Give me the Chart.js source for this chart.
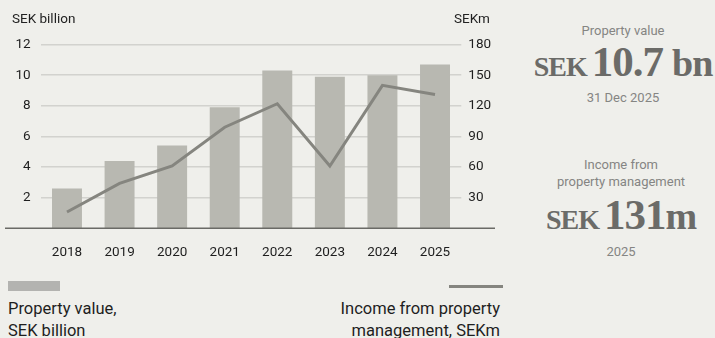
<!DOCTYPE html>
<html>
<head>
<meta charset="utf-8">
<script src="https://cdn.jsdelivr.net/npm/chart.js@4"></script>
<style>
  html, body { margin: 0; padding: 0; background: #efefeb; }
  body { width: 715px; height: 338px; position: relative; overflow: hidden; font-family: Roboto, sans-serif; }
  #wrap { position: absolute; left: 0; top: 0; width: 500px; height: 270px; }
  .axis-title { position: absolute; top: 10px; font-size: 13.5px; color: #222; }
  .legend-bar { position: absolute; left: 8px; top: 281px; width: 52px; height: 10px; background: #b3b3b0; }
  .legend-line { position: absolute; left: 449px; top: 285px; width: 54px; height: 3px; background: #85857f; }
  .legend-text { position: absolute; font-size: 16.5px; line-height: 22px; color: #1e1e1e; }
  .side { position: absolute; left: 527px; width: 188px; text-align: center; color: #858583; }
  .side .small { font-size: 13px; line-height: 17px; }
  .side .big { font-family: "Liberation Serif", serif; font-weight: bold; color: #6b6b68; letter-spacing: -1px; white-space: nowrap; }
  .side .big .u { font-size: 28px; margin-right: 5px; }
  .side .big .n { font-size: 43px; }
</style>
</head>
<body>
<div id="wrap"><canvas id="chart"></canvas></div>
<div class="axis-title" style="left:12px">SEK billion</div>
<div class="axis-title" style="left:454px">SEKm</div>

<div class="legend-bar"></div>
<div class="legend-text" style="left:8px; top:298px">Property value,<br>SEK billion</div>
<div class="legend-line"></div>
<div class="legend-text" style="right:215px; top:298px; text-align:right">Income from property<br>management, SEKm</div>

<div class="side" style="top:22px; left:529px">
  <div class="small">Property value</div>
  <div class="big" style="line-height:46px"><span class="u">SEK</span><span class="n">10.7</span><span class="n" style="font-size:38px; margin-left:9px">bn</span></div>
  <div class="small" style="margin-top:-5px">31 Dec 2025</div>
</div>
<div class="side" style="top:156px">
  <div class="small">Income from<br>property management</div>
  <div class="big" style="line-height:46px; margin-top:2px"><span class="u">SEK</span><span class="n">131</span><span class="n" style="font-size:38px">m</span></div>
  <div class="small" style="margin-top:-4px">2025</div>
</div>

<script>
const years = ["2018", "2019", "2020", "2021", "2022", "2023", "2024", "2025"];
const propertyValue = [2.6, 4.4, 5.4, 7.9, 10.3, 9.9, 10.0, 10.7];      // SEK billion
const mgmtIncome = [16, 44, 61, 99, 122, 61, 140, 131];                  // SEKm
const leftTicks = [2, 4, 6, 8, 10, 12];
const rightTicks = [30, 60, 90, 120, 150, 180];

const tickFont = { family: "Roboto", size: 13.5 };

// long dark baseline under the bars, running past the plot edges
const baseline = {
  id: "baseline",
  afterDatasetsDraw(chart) {
    const ctx = chart.ctx;
    const y = chart.scales.y.getPixelForValue(0);
    ctx.save();
    ctx.strokeStyle = "#6a6a66";
    ctx.lineWidth = 1.5;
    ctx.beginPath();
    ctx.moveTo(5, y);
    ctx.lineTo(495, y);
    ctx.stroke();
    ctx.restore();
  }
};

new Chart(document.getElementById("chart"), {
  data: {
    labels: years,
    datasets: [
      {
        type: "line",
        label: "Income from property management, SEKm",
        data: mgmtIncome,
        yAxisID: "y2",
        borderColor: "#85857f",
        borderWidth: 3,
        pointRadius: 0,
        tension: 0,
        order: 0
      },
      {
        type: "bar",
        label: "Property value, SEK billion",
        data: propertyValue,
        yAxisID: "y",
        backgroundColor: "#b8b8b1",
        barPercentage: 0.57,
        categoryPercentage: 1,
        order: 1
      }
    ]
  },
  options: {
    responsive: true,
    maintainAspectRatio: false,
    animation: false,
    layout: { padding: { top: 44.5, left: 0, right: 0, bottom: 0 } },
    plugins: { legend: { display: false }, tooltip: { enabled: false } },
    scales: {
      x: {
        grid: { display: false, drawTicks: false },
        border: { display: false },
        ticks: { color: "#1e1e1e", font: tickFont, padding: 16 },
        afterFit(scale) { scale.height = 41.7; }
      },
      y: {
        position: "left",
        min: 0,
        max: 12,
        afterBuildTicks(scale) { scale.ticks = [0].concat(leftTicks).map(v => ({ value: v })); },
        ticks: {
          color: "#1e1e1e",
          font: tickFont,
          padding: 10,
          callback: v => (v === 0 ? null : v)
        },
        grid: { color: "#d2d2ce", lineWidth: 1.5, drawTicks: false },
        border: { display: false },
        afterFit(scale) { scale.width = 40.7; }
      },
      y2: {
        position: "right",
        min: 0,
        max: 180,
        afterBuildTicks(scale) { scale.ticks = [0].concat(rightTicks).map(v => ({ value: v })); },
        ticks: {
          color: "#1e1e1e",
          font: tickFont,
          padding: 7,
          callback: v => (v === 0 ? null : v)
        },
        grid: { display: false, drawTicks: false },
        border: { display: false },
        afterFit(scale) { scale.width = 38.7; }
      }
    }
  },
  plugins: [baseline]
});
</script>
</body>
</html>
